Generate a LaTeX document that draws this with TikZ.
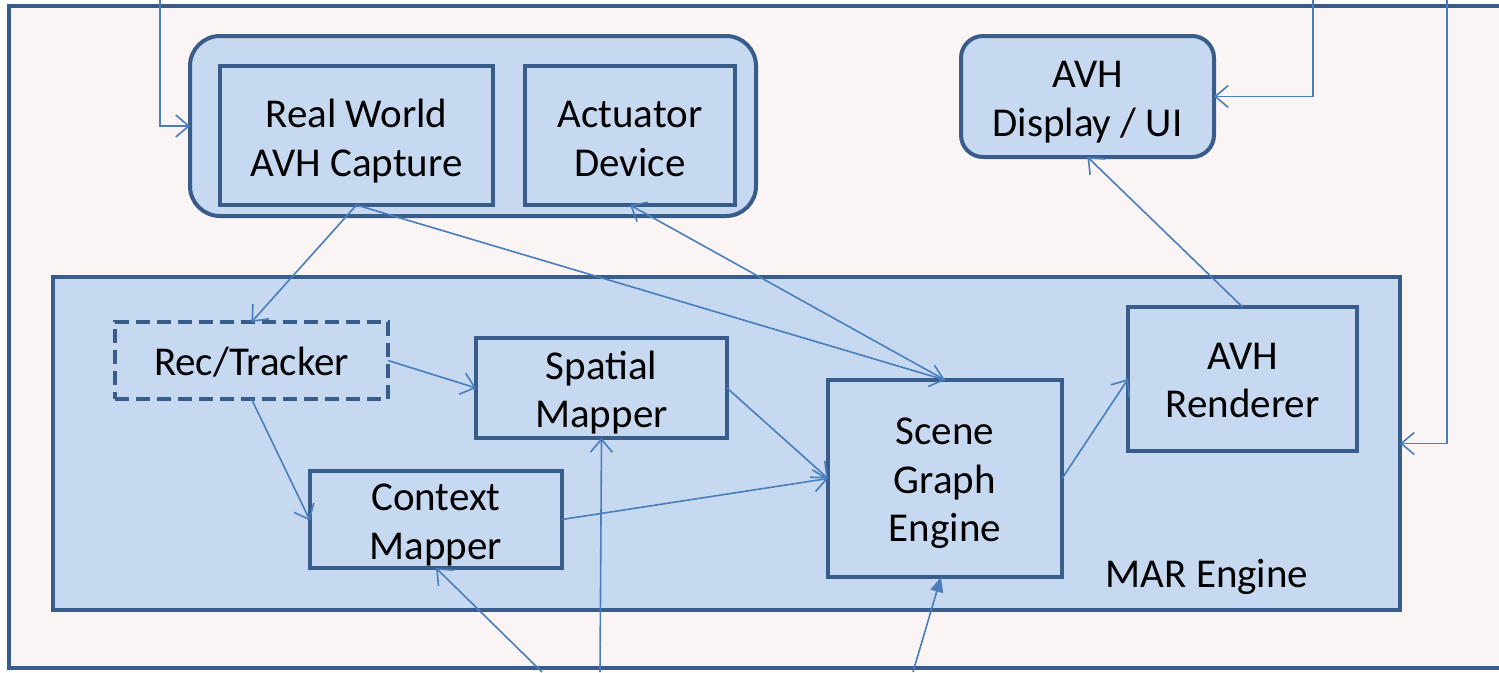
\documentclass[tikz,border=0pt]{standalone}
\usepackage{fontspec}
\setmainfont{Carlito}
\usetikzlibrary{arrows.meta}
\definecolor{bd}{HTML}{385D8A}
\definecolor{fl}{HTML}{C6D9F1}
\definecolor{ln}{HTML}{4A7EBB}
\definecolor{bg}{HTML}{FAF4F4}
\newcommand{\mytxt}[2][-6pt]{\raisebox{#1}[\height][\depth]{\begin{tabular}{@{}c@{}}#2\end{tabular}}}
\begin{document}
\begin{tikzpicture}[x=1pt,y=-1pt,
  box/.style={draw=bd, fill=fl, line width=4pt, align=center, outer sep=0pt, inner sep=0pt,
    font=\fontsize{41}{48.5}\selectfont},
  lbl/.style={align=center, inner sep=0pt, font=\fontsize{41}{48.5}\selectfont},
  conn/.style={draw=ln, line width=1.6pt, -{Straight Barb[length=13pt,width=22pt,line width=1.6pt]}},
  fconn/.style={draw=ln, line width=1.6pt, -{Triangle[length=15pt,width=13pt]}}
]
\useasboundingbox (0,0) rectangle (1499,672);
\fill[white] (0,0) rectangle (1499,672);
\begin{scope}
  \clip (0,0) rectangle (1499,672);
  \draw[bd, line width=4pt, fill=bg] (9,6) rectangle (1540,668);
\end{scope}

% top group
\node[box, rounded corners=30pt, minimum width=566pt, minimum height=180pt] (grp) at (473,126) {};
\node[box, minimum width=273pt, minimum height=139pt] (cap) at (356.5,135.5) {\mytxt[-7pt]{Real World\\AVH Capture}};
\node[box, minimum width=210pt, minimum height=139pt] (act) at (630,135.5) {\mytxt[-7pt]{Actuator\\Device}};
\node[box, rounded corners=22pt, minimum width=253pt, minimum height=121pt] (disp) at (1087.5,96.5) {\mytxt{AVH\\Display / UI}};

% MAR engine
\node[box, minimum width=1347pt, minimum height=333pt] (mar) at (726.5,443.5) {};
\node[lbl] (marlabel) at (1207,577) {MAR Engine};
\node[box, dash pattern=on 14pt off 7pt, minimum width=273pt, minimum height=77pt] (rec) at (251.5,360.5) {\mytxt[-5pt]{Rec/Tracker}};
\node[box, minimum width=251pt, minimum height=100pt] (spa) at (601.5,388) {\mytxt{Spatial\\Mapper}};
\node[box, minimum width=252pt, minimum height=91pt] (ctx) at (436,519.5) {\mytxt{Context\\Mapper}};
\node[box, minimum width=234pt, minimum height=197pt] (scn) at (945,478.5) {\mytxt[-5pt]{Scene\\Graph\\Engine}};
\node[box, minimum width=229pt, minimum height=144pt] (ren) at (1242.5,379) {\mytxt[-5pt]{AVH\\Renderer}};

% outside endpoints
\coordinate (t1) at (160,0);
\coordinate (t2) at (1313,0);
\coordinate (t3) at (1447,0);
\coordinate (b1) at (542,672);
\coordinate (b2) at (600,672);
\coordinate (b3) at (913,672);

% connectors
\draw[conn] (t1) |- (grp.west);
\draw[conn] (t2) |- (disp.east);
\draw[conn] (t3) |- (mar.east);
\draw[conn] (cap.south) -- (rec.north);
\draw[conn] (cap.south) -- (scn.north);
\draw[conn] (scn.north) -- (act.south);
\draw[conn] (rec.east) -- (spa.west);
\draw[conn] (rec.south) -- ([yshift=-1pt]ctx.west);
\draw[conn] (spa.east) -- (scn.west);
\draw[conn] (ctx.east) -- (scn.west);
\draw[conn] (scn.east) -- (ren.west);
\draw[conn] (ren.north) -- (disp.south);
\draw[conn] (b1) -- (ctx.south);
\draw[conn] (b2) -- (spa.south);
\draw[fconn] (b3) -- ([xshift=-4pt]scn.south);
\end{tikzpicture}
\end{document}
